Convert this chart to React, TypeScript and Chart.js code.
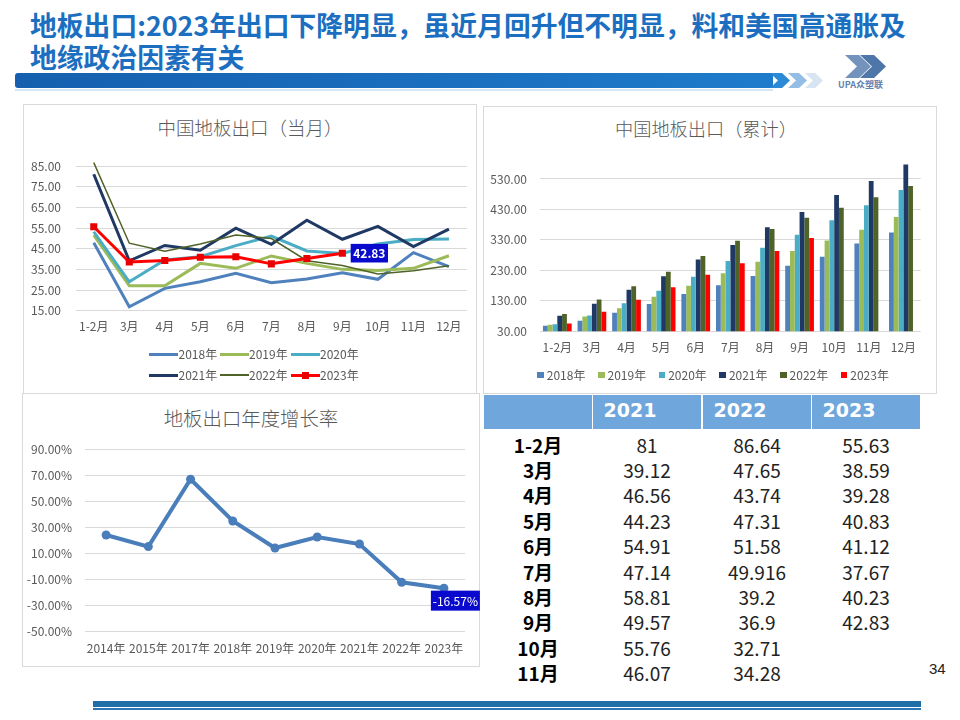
import React, { useEffect, useRef } from "react";
import { Chart, registerables } from "chart.js";
Chart.register(...registerables);

// ---------------- data ----------------
const months = ["1-2月", "3月", "4月", "5月", "6月", "7月", "8月", "9月", "10月", "11月", "12月"];
const seriesNames = ["2018年", "2019年", "2020年", "2021年", "2022年", "2023年"];

// monthly exports (当月)
const m2018 = [47.9, 16.9, 25.8, 29.0, 33.1, 28.5, 30.3, 33.4, 30.2, 43.1, 36.3];
const m2019 = [51.6, 27.1, 27.1, 37.9, 35.5, 41.5, 37.9, 35.0, 34.4, 35.5, 41.6];
const m2020 = [53.2, 29.0, 39.5, 41.1, 46.5, 51.1, 43.9, 42.7, 47.3, 49.5, 49.7];
const m2021 = [81, 39.12, 46.56, 44.23, 54.91, 47.14, 58.81, 49.57, 55.76, 46.07, 54.5];
const m2022 = [86.64, 47.65, 43.74, 47.31, 51.58, 49.916, 39.2, 36.9, 32.71, 34.28, 36.8];
const m2023 = [55.63, 38.59, 39.28, 40.83, 41.12, 37.67, 40.23, 42.83];

// cumulative exports (累计)
const c2018 = [47.9, 64.8, 90.6, 119.6, 152.7, 181.2, 211.5, 244.9, 275.1, 318.2, 354.5];
const c2019 = [51.6, 78.7, 105.8, 143.7, 179.2, 220.7, 258.6, 293.6, 328.0, 363.5, 405.1];
const c2020 = [53.2, 82.2, 121.7, 162.8, 209.3, 260.4, 304.3, 347.0, 394.3, 443.8, 493.5];
const c2021 = [81, 120.12, 166.68, 210.91, 265.82, 312.96, 371.77, 421.34, 477.1, 523.17, 577.7];
const c2022 = [86.64, 134.29, 178.03, 225.34, 276.92, 326.84, 366.04, 402.94, 435.65, 469.93, 506.7];
const c2023 = [55.63, 94.22, 133.5, 174.33, 215.45, 253.12, 293.35, 336.18, null, null, null];

// annual growth
const growthYears = ["2014年", "2015年", "2017年", "2018年", "2019年", "2020年", "2021年", "2022年", "2023年"];
const growthValues = [24.2, 15.3, 67.0, 35.0, 14.2, 22.7, 17.3, -12.1, -16.57];

// tick labels
const lineTicks = [15, 25, 35, 45, 55, 65, 75, 85];
const barTicks = [30, 130, 230, 330, 430, 530];
const growthTicks = [-50, -30, -10, 10, 30, 50, 70, 90];

// table
const tableYears = ["2021", "2022", "2023"];
const tableMonths = ["1-2月", "3月", "4月", "5月", "6月", "7月", "8月", "9月", "10月", "11月"];
const t2021 = ["81", "39.12", "46.56", "44.23", "54.91", "47.14", "58.81", "49.57", "55.76", "46.07"];
const t2022 = ["86.64", "47.65", "43.74", "47.31", "51.58", "49.916", "39.2", "36.9", "32.71", "34.28"];
const t2023 = ["55.63", "38.59", "39.28", "40.83", "41.12", "37.67", "40.23", "42.83", "", ""];

// ---------------- styles ----------------
const FONT = "'Noto Sans CJK SC', 'Noto Sans', sans-serif";
const seriesColors = ["#4F81BD", "#9BBB59", "#4BACC6", "#1F3864", "#4F6228", "#FF0000"];
const lineWidths = [3, 3, 3, 3, 1.5, 3];
const GRID = "#D9D9D9";
const TICK = "#595959";

Chart.defaults.font.family = FONT;

function labelPlugin(dsIndex: number, ptIndex: number, text: string, dx0: number, dx1: number, dy0: number, dy1: number, font: string, bg: string) {
  return {
    id: "valueLabel" + dsIndex,
    afterDatasetsDraw(chart: any) {
      const meta = chart.getDatasetMeta(dsIndex);
      const pt = meta.data[ptIndex];
      if (!pt) return;
      const ctx = chart.ctx;
      ctx.save();
      ctx.fillStyle = bg;
      ctx.fillRect(pt.x + dx0, pt.y + dy0, dx1 - dx0, dy1 - dy0);
      ctx.fillStyle = "#FFFFFF";
      ctx.font = font;
      ctx.textAlign = "center";
      ctx.textBaseline = "middle";
      ctx.fillText(text, pt.x + (dx0 + dx1) / 2, pt.y + (dy0 + dy1) / 2 + 0.5);
      ctx.restore();
    },
  };
}

function ChartCanvas({ make, left, top, width, height }: any) {
  const ref = useRef<HTMLCanvasElement | null>(null);
  useEffect(() => {
    if (!ref.current) return;
    const chart = new Chart(ref.current, make());
    return () => chart.destroy();
  }, []);
  return (
    <canvas
      ref={ref}
      width={width}
      height={height}
      style={{ position: "absolute", left, top, width, height }}
    />
  );
}

const monthlySeries = [m2018, m2019, m2020, m2021, m2022, m2023];
const cumulativeSeries = [c2018, c2019, c2020, c2021, c2022, c2023];

function makeLineConfig(): any {
  return {
    type: "line",
    data: {
      labels: months,
      datasets: monthlySeries.map((d, i) => ({
        label: seriesNames[i],
        data: d,
        borderColor: seriesColors[i],
        backgroundColor: seriesColors[i],
        borderWidth: lineWidths[i],
        pointRadius: i === 5 ? 5 : 0,
        pointStyle: "rect",
        pointBorderWidth: 0,
        pointBackgroundColor: "#E80000",
        tension: 0,
        fill: false,
        order: 6 - i,
      })),
    },
    options: {
      responsive: false,
      animation: false,
      layout: { padding: { left: 0, right: 11.3, top: 51.7, bottom: 52.3 } },
      plugins: { legend: { display: false }, tooltip: { enabled: false }, title: { display: false } },
      scales: {
        x: {
          offset: true,
          grid: { display: false, drawTicks: false },
          border: { display: false },
          ticks: { color: TICK, font: { size: 12 }, padding: 9, maxRotation: 0, autoSkip: false },
          afterFit: (s: any) => { s.height = 30; },
        },
        y: {
          min: 15,
          max: 90,
          grid: { color: GRID, drawTicks: false },
          border: { display: false },
          ticks: { color: TICK, font: { size: 12 }, padding: 15, callback: (v: any) => Number(v).toFixed(2) },
          afterBuildTicks: (s: any) => { s.ticks = lineTicks.map((v) => ({ value: v })); },
          afterFit: (s: any) => { s.width = 54; },
        },
      },
    },
    plugins: [labelPlugin(5, 7, String(m2023[7]), 8.3, 45.6, -9.3, 9.3, "bold 12px " + FONT, "#0A0ACF")],
  };
}

function makeBarConfig(): any {
  return {
    type: "bar",
    data: {
      labels: months,
      datasets: cumulativeSeries.map((d, i) => ({
        label: seriesNames[i],
        data: d,
        backgroundColor: seriesColors[i],
        borderWidth: 0,
        categoryPercentage: 0.83,
        barPercentage: 1.0,
      })),
    },
    options: {
      responsive: false,
      animation: false,
      layout: { padding: { left: 0, right: 16.3, top: 54.7, bottom: 31.7 } },
      plugins: { legend: { display: false }, tooltip: { enabled: false }, title: { display: false } },
      scales: {
        x: {
          grid: { display: false, drawTicks: false },
          border: { display: false },
          ticks: { color: TICK, font: { size: 12 }, padding: 8.5, maxRotation: 0, autoSkip: false },
          afterFit: (s: any) => { s.height = 30; },
        },
        y: {
          min: 30,
          max: 590,
          grid: { color: GRID, drawTicks: false },
          border: { display: false },
          ticks: { color: TICK, font: { size: 12 }, padding: 13, callback: (v: any) => Number(v).toFixed(2) },
          afterBuildTicks: (s: any) => { s.ticks = barTicks.map((v) => ({ value: v })); },
          afterFit: (s: any) => { s.width = 57; },
        },
      },
    },
  };
}

function makeGrowthConfig(): any {
  const last = growthValues.length - 1;
  return {
    type: "line",
    data: {
      labels: growthYears,
      datasets: [
        {
          label: "增长率",
          data: growthValues,
          borderColor: "#4A7EBB",
          backgroundColor: "#4A7EBB",
          borderWidth: 4,
          pointRadius: 4.5,
          pointBorderWidth: 0,
          tension: 0,
          fill: false,
        },
      ],
    },
    options: {
      responsive: false,
      animation: false,
      layout: { padding: { left: 0, right: 17, top: 54.3, bottom: 0 } },
      plugins: { legend: { display: false }, tooltip: { enabled: false }, title: { display: false } },
      scales: {
        x: {
          offset: true,
          grid: { display: false, drawTicks: false },
          border: { display: false },
          ticks: { color: TICK, font: { size: 12 }, padding: 10, maxRotation: 0, autoSkip: false },
          afterFit: (s: any) => { s.height = 34.3; },
        },
        y: {
          min: -50,
          max: 90,
          grid: { color: GRID, drawTicks: false },
          border: { display: false },
          ticks: { color: TICK, font: { size: 12 }, padding: 13, callback: (v: any) => Number(v).toFixed(2) + "%" },
          afterBuildTicks: (s: any) => { s.ticks = growthTicks.map((v) => ({ value: v })); },
          afterFit: (s: any) => { s.width = 63; },
        },
      },
    },
    plugins: [labelPlugin(0, last, growthValues[last].toFixed(2) + "%", -13, 36, 2.5, 22.5, "12px " + FONT, "#0A0ACF")],
  };
}

const abs = (left: number, top: number, extra: any = {}) => ({ position: "absolute" as const, left, top, ...extra });

function ChartTitle({ text, cx, cy, size }: any) {
  return (
    <div
      style={abs(cx - 150, cy - 13, {
        width: 300,
        textAlign: "center",
        lineHeight: "26px",
        fontSize: size,
        fontWeight: 300,
        color: "#595959",
        fontFamily: FONT,
        whiteSpace: "nowrap",
      })}
    >
      {text}
    </div>
  );
}

function LineLegend() {
  const xs = [149, 219.5, 290.5];
  const rows = [354, 375];
  return (
    <>
      {seriesNames.map((n, i) => {
        const x = xs[i % 3];
        const y = rows[Math.floor(i / 3)];
        const w = lineWidths[i];
        return (
          <React.Fragment key={n}>
            <div style={abs(x, y - w / 2, { width: 29, height: w, background: seriesColors[i] })} />
            {i === 5 && <div style={abs(x + 11, y - 3.5, { width: 7, height: 7, background: "#E80000" })} />}
            <div
              style={abs(x + 29.5, y - 9, {
                lineHeight: "18px",
                fontSize: 12,
                color: TICK,
                fontFamily: FONT,
                whiteSpace: "nowrap",
              })}
            >
              {n}
            </div>
          </React.Fragment>
        );
      })}
    </>
  );
}

function BarLegend() {
  return (
    <>
      {seriesNames.map((n, i) => {
        const x = 537.3 + i * 60.7;
        const y = 375;
        return (
          <React.Fragment key={n}>
            <div style={abs(x, y - 3.5, { width: 6.5, height: 6.5, background: seriesColors[i] })} />
            <div
              style={abs(x + 9.5, y - 9, {
                lineHeight: "18px",
                fontSize: 12,
                color: TICK,
                fontFamily: FONT,
                whiteSpace: "nowrap",
              })}
            >
              {n}
            </div>
          </React.Fragment>
        );
      })}
    </>
  );
}

function DataTable() {
  const colLefts = [484, 593, 703, 812];
  const colW = 108;
  const cols = [t2021, t2022, t2023];
  return (
    <>
      {colLefts.map((l, i) => (
        <div key={"h" + i} style={abs(l, 395, { width: colW, height: 34, background: "#6FA6DC" })}>
          {i > 0 && (
            <div
              style={{
                position: "absolute",
                left: 10.5,
                top: 0,
                lineHeight: "30px",
                fontSize: 19,
                fontWeight: 700,
                color: "#FFFFFF",
                fontFamily: "'DejaVu Sans', sans-serif",
              }}
            >
              {tableYears[i - 1]}
            </div>
          )}
        </div>
      ))}
      {tableMonths.map((m, r) => {
        const top = 431.6 + r * 25.4;
        return (
          <React.Fragment key={m}>
            <div
              style={abs(colLefts[0], top, {
                width: colW,
                height: 25.4,
                lineHeight: "25.4px",
                textAlign: "center",
                fontSize: 19,
                fontWeight: 700,
                color: "#000",
                fontFamily: FONT,
              })}
            >
              {m}
            </div>
            {cols.map((c, ci) => (
              <div
                key={ci}
                style={abs(colLefts[ci + 1], top, {
                  width: colW,
                  height: 25.4,
                  lineHeight: "25.4px",
                  textAlign: "center",
                  fontSize: 19,
                  color: "#222",
                  fontFamily: FONT,
                })}
              >
                {c[r]}
              </div>
            ))}
          </React.Fragment>
        );
      })}
    </>
  );
}

function Header() {
  return (
    <>
      <div
        style={abs(30, 9, {
          fontSize: 26.8,
          lineHeight: "32px",
          fontWeight: 700,
          color: "#1C6FC0",
          fontFamily: FONT,
          whiteSpace: "nowrap",
        })}
      >
        地板出口:2023年出口下降明显，虽近月回升但不明显，料和美国高通胀及
        <br />
        地缘政治因素有关
      </div>
      <div
        style={abs(15, 73, {
          width: 758,
          height: 15,
          borderRadius: "3px 0 0 3px",
          background: "linear-gradient(to right, #155FAE, #1E7BCB)",
        })}
      />
      <div style={abs(15, 89, { width: 758, height: 2, background: "#D3E6F6" })} />
      <svg style={abs(0, 0)} width={960} height={110}>
        <polygon points="770,73 782,73 790,80.5 782,88 770,88 778,80.5" fill="#2A8AD6" />
        <polygon points="788,73 799,73 807,80.5 799,88 788,88 796,80.5" fill="#94BDE5" />
        <polygon points="805,73 815,73 823,80.5 815,88 805,88 813,80.5" fill="#D7E4F2" />
        <polygon points="845,55 859,55 871,66.5 859,78 845,78 857,66.5" fill="#7393BD" />
        <polygon points="860,55 874,55 886,66.5 874,78 860,78 872,66.5" fill="#4F76A8" />
      </svg>
      <div
        style={abs(838, 80, {
          fontSize: 9,
          lineHeight: "10px",
          fontWeight: 700,
          color: "#5F82B2",
          fontFamily: FONT,
          whiteSpace: "nowrap",
        })}
      >
        UPA众塑联
      </div>
    </>
  );
}

export default function App() {
  return (
    <div
      style={{
        position: "absolute",
        left: 0,
        top: 0,
        width: 960,
        height: 720,
        overflow: "hidden",
        background: "#FFFFFF",
        fontFamily: FONT,
      }}
    >
      <Header />

      {/* chart boxes */}
      <div style={abs(23, 104, { width: 452, height: 288, border: "1px solid #D9D9D9" })} />
      <div style={abs(483, 106, { width: 452, height: 286, border: "1px solid #D9D9D9" })} />
      <div style={abs(22, 393, { width: 456, height: 272, border: "1px solid #D9D9D9" })} />

      <ChartTitle text="中国地板出口（当月）" cx={250} cy={127} size={18.5} />
      <ChartTitle text="中国地板出口（累计）" cx={706} cy={128} size={18.2} />
      <ChartTitle text="地板出口年度增长率" cx={251} cy={417.5} size={19.4} />

      <ChartCanvas make={makeLineConfig} left={22} top={104} width={456} height={289} />
      <ChartCanvas make={makeBarConfig} left={483} top={106} width={454} height={287} />
      <ChartCanvas make={makeGrowthConfig} left={22} top={395} width={460} height={271} />

      <LineLegend />
      <BarLegend />
      <DataTable />

      <div style={abs(929, 660, { fontSize: 15, lineHeight: "18px", color: "#222", fontFamily: "'Liberation Sans', sans-serif" })}>34</div>
      <div style={abs(93, 701, { width: 828, height: 6, background: "#1F6EA8" })} />
      <div style={abs(93, 708, { width: 828, height: 1.6, background: "#2E75B6" })} />
    </div>
  );
}
